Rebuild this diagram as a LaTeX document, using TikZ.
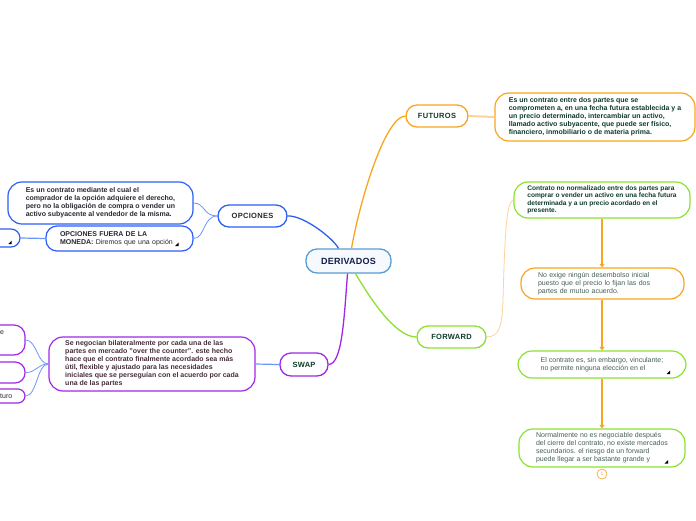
\documentclass[tikz,border=0pt]{standalone}
\usepackage{fontspec}
\setmainfont{Liberation Sans}
\usetikzlibrary{arrows.meta}
\definecolor{cOrange}{RGB}{248,166,30}
\definecolor{cLOrange}{RGB}{252,212,155}
\definecolor{cBlue}{RGB}{45,95,245}
\definecolor{cLBlue}{RGB}{110,150,250}
\definecolor{cPurple}{RGB}{160,40,230}
\definecolor{cGreen}{RGB}{140,225,50}
\definecolor{cDerivB}{RGB}{90,155,210}
\definecolor{cDerivF}{RGB}{246,250,255}
\definecolor{cNavy}{RGB}{20,30,70}
\definecolor{cDkGreen}{RGB}{15,60,45}
\definecolor{cDkGray}{RGB}{40,40,50}
\definecolor{cDkPurp}{RGB}{70,45,60}
\definecolor{cGText}{RGB}{70,95,85}
\begin{document}
\begin{tikzpicture}[x=1pt,y=-1pt,
  mainlbl/.style={draw, fill=white, rounded corners=11pt, line width=1.3pt, inner sep=0pt,
    align=center, text=cDkGreen,
    font=\fontsize{7.5}{9}\selectfont\bfseries\addfontfeature{LetterSpace=4}},
  desc/.style={draw, fill=white, rounded corners=14pt, line width=1.2pt, inner sep=0pt,
    align=left, font=\fontsize{7}{8}\selectfont},
  descb/.style={desc, font=\fontsize{7}{8}\selectfont\bfseries},
  conn/.style={line width=1.3pt},
  thinconn/.style={draw=cLBlue, line width=0.8pt},
  farrow/.style={draw=cOrange, line width=1.5pt, -{Triangle[length=3.5pt,width=5pt]}},
  cornermark/.style={fill=black}
]
\useasboundingbox (0,0) rectangle (696,520);
\fill[white] (0,0) rectangle (696,520);

% main nodes
\node[mainlbl, draw=cDerivB, fill=cDerivF, text=cNavy, minimum width=85, minimum height=24,
  font=\fontsize{9}{10}\selectfont\bfseries\addfontfeature{LetterSpace=3}] (deriv) at (348.5,261) {DERIVADOS};
\node[mainlbl, draw=cOrange, minimum width=62, minimum height=22] (fut) at (437,116) {FUTUROS};
\node[mainlbl, draw=cBlue, text=cDkGray, minimum width=69, minimum height=22] (opc) at (252.5,216) {OPCIONES};
\node[mainlbl, draw=cPurple, minimum width=48, minimum height=23] (swap) at (304,364.5) {SWAP};
\node[mainlbl, draw=cGreen, minimum width=69, minimum height=22] (fwd) at (451.5,337) {FORWARD};

% futuros
\node[descb, draw=cOrange, text=cDkGreen, minimum width=200, minimum height=48] (futd) at (595,117)
 {Es un contrato entre dos partes que se\\comprometen a, en una fecha futura establecida y a\\un precio determinado, intercambiar un activo,\\llamado activo subyacente, que puede ser físico,\\financiero, inmobiliario o de materia prima.};

% opciones
\node[descb, draw=cBlue, text=cDkGray, minimum width=185, minimum height=42] (od1) at (100.5,203)
 {Es un contrato mediante el cual el\\comprador de la opción adquiere el derecho,\\pero no la obligación de compra o vender un\\activo subyacente al vendedor de la misma.};
\node[desc, draw=cBlue, text=cDkGray, rounded corners=11pt, minimum height=25,
  text width=119, inner xsep=14pt] (od2) at (119.5,238.5)
 {\textbf{OPCIONES FUERA DE LA}\\\textbf{MONEDA:} Diremos que una opción};
\node[desc, draw=cBlue, rounded corners=9pt, minimum width=60, minimum height=18] (opl) at (-10,238) {};

% swap
\node[descb, draw=cPurple, text=cDkPurp, minimum width=206, minimum height=54] (sd) at (152,364)
 {Se negocian bilateralmente por cada una de las\\partes en mercado "over the counter". este hecho\\hace que el contrato finalmente acordado sea más\\útil, flexible y ajustado para las necesidades\\iniciales que se perseguían con el acuerdo por cada\\una de las partes};
\node[desc, draw=cPurple, rounded corners=11pt, minimum width=65, minimum height=30] (sa) at (-7.5,340) {};
\node[desc, draw=cPurple, rounded corners=10pt, minimum width=65, minimum height=21] (sb) at (-7.5,372.5) {};
\node[desc, draw=cPurple, rounded corners=7pt, minimum width=65, minimum height=14] (sc) at (-7.5,396) {};
\node[anchor=west, inner sep=0pt, font=\fontsize{7}{8}\selectfont, text=cDkGray] (sat) at (0,333) {e};
\node[anchor=west, inner sep=0pt, font=\fontsize{7}{8}\selectfont, text=cDkGray] (sct) at (0,396.5) {turo};

% forward
\node[desc, draw=cGreen, text=cDkGreen, minimum width=176, minimum height=36,
  font=\fontsize{6.6}{7.5}\selectfont\bfseries] (fd1) at (602,200)
 {Contrato no normalizado entre dos partes para\\comprar o vender un activo en una fecha futura\\determinada y a un precio acordado en el\\presente.};
\node[desc, draw=cOrange, text=cGText, minimum height=31, text width=129, inner xsep=17pt] (fd2) at (602.5,283.5)
 {No exige ningún desembolso inicial\\puesto que el precio lo fijan las dos\\partes de mutuo acuerdo.};
\node[desc, draw=cGreen, text=cGText, minimum width=168, minimum height=27] (fd3) at (602,364.5)
 {El contrato es, sin embargo, vinculante;\\no permite ninguna elección en el};
\node[desc, draw=cGreen, text=cGText, minimum width=166, minimum height=38] (fd4) at (602,448)
 {Normalmente no es negociable después\\del cierre del contrato, no existe mercados\\secundarios. el riesgo de un forward\\puede llegar a ser bastante grande y};
\node[circle, draw=cOrange, line width=0.6pt, minimum size=10pt, inner sep=0pt,
  font=\fontsize{5}{5}\selectfont, text=cOrange] (badge) at (602,474) {1};

% connectors
\draw[conn, draw=cOrange] ([xshift=3]deriv.north) .. controls (360,200) and (385,117) .. (fut.west);
\draw[draw=cLOrange, line width=2pt] (fut.east) -- (futd.west);
\draw[conn, draw=cBlue] ([xshift=-10]deriv.north) .. controls (333,238) and (303,215) .. (opc.east);
\draw[conn, draw=cPurple] ([xshift=-1]deriv.south) .. controls (344,320) and (342,364) .. (swap.east);
\draw[conn, draw=cGreen] ([xshift=7]deriv.south) .. controls (370,298) and (395,337) .. (fwd.west);

\draw[thinconn] (opc.west) .. controls (203,216) and (205,203) .. (od1.east);
\draw[thinconn] (opc.west) .. controls (203,216) and (205,238.5) .. (od2.east);
\draw[draw=cLBlue, line width=1.2pt] (opl.east) -- (od2.west);
\draw[draw=cLBlue, line width=1.2pt] (swap.west) -- (sd.east);
\draw[thinconn] (sd.west) .. controls (37,364) and (37,340) .. (sa.east);
\draw[thinconn] (sd.west) .. controls (37,364) and (37,372.5) .. (sb.east);
\draw[thinconn] (sd.west) .. controls (37,364) and (37,396) .. (sc.east);

\draw[draw=cLOrange, line width=0.8pt] (fwd.east) .. controls (500,337) and (502,325) .. (503,300)
  .. controls (505,225) and (507,202) .. (fd1.west);
\draw[farrow] (fd1.south) -- (fd1.south |- fd2.north);
\draw[farrow] (fd2.south -| fd1.south) -- (fd1.south |- fd3.north);
\draw[farrow] (fd3.south) -- (fd3.south |- fd4.north);

% corner marks
\fill[cornermark] (178.5,246) -- (175,246) -- (178.5,242.5) -- cycle;
\fill[cornermark] (11.7,244) -- (8.3,244) -- (11.7,240.6) -- cycle;
\fill[cornermark] (670,374) -- (666.5,374) -- (670,370.5) -- cycle;
\fill[cornermark] (668,463.5) -- (664.5,463.5) -- (668,460) -- cycle;
\end{tikzpicture}
\end{document}
